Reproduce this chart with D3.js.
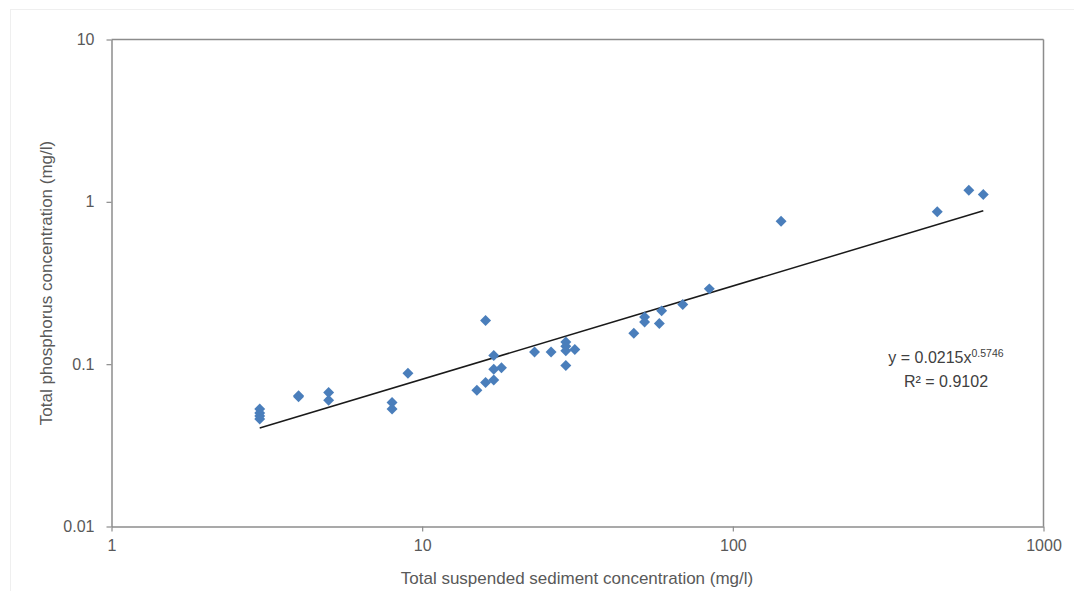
<!DOCTYPE html>
<html>
<head>
<meta charset="utf-8">
<script src="https://cdn.jsdelivr.net/npm/d3@7"></script>
<style>
  html, body { margin: 0; padding: 0; background: #fff; }
  svg { display: block; }
  text { font-family: "Liberation Sans", Arial, sans-serif; }
</style>
</head>
<body>
<svg id="chart" width="1074" height="591"></svg>
<script>
// ---- Data ----
const tss = [3, 3, 3, 3, 4, 4, 5, 5, 8, 8, 9, 15, 16, 16, 17, 17, 17, 18, 23, 26,
             29, 29, 29, 29, 31, 48, 52, 52, 58, 59, 69, 84, 143, 455, 575, 640];
const tp  = [0.053, 0.050, 0.048, 0.046, 0.064, 0.063, 0.067, 0.060, 0.058, 0.053,
             0.088, 0.069, 0.186, 0.077, 0.113, 0.093, 0.080, 0.095, 0.119, 0.119,
             0.137, 0.129, 0.121, 0.098, 0.123, 0.155, 0.195, 0.182, 0.178, 0.213,
             0.233, 0.291, 0.76, 0.87, 1.18, 1.11];
const xTicks = [1, 10, 100, 1000];
const yTicks = [0.01, 0.1, 1, 10];
const trendCoef = [0.0215, 0.5746];   // y = a * x^b
const eqLabel = "y = 0.0215x";
const eqExp = "0.5746";
const r2Label = "R² = 0.9102";
const xTitle = "Total suspended sediment concentration (mg/l)";
const yTitle = "Total phosphorus concentration (mg/l)";

// ---- Layout ----
const svg = d3.select("#chart");
const L = 111.5, R = 1043.5, T = 39.5, B = 526.5;

const x = d3.scaleLog().domain([1, 1000]).range([L, R]);
const y = d3.scaleLog().domain([0.01, 10]).range([B, T]);

// faint outer chart border
svg.append("rect").attr("x", 10.5).attr("y", 9.5).attr("width", 1070).attr("height", 600)
  .attr("fill", "none").attr("stroke", "#efefef").attr("stroke-width", 1);

const axisColor = "#8c8c8c";
const labelColor = "#595959";

// plot area border (top & right)
svg.append("line").attr("x1", L).attr("x2", R).attr("y1", T).attr("y2", T)
  .attr("stroke", axisColor).attr("stroke-width", 1.5);
svg.append("line").attr("x1", R).attr("x2", R).attr("y1", T).attr("y2", B)
  .attr("stroke", axisColor).attr("stroke-width", 1.5);

// axes
const xAxis = d3.axisBottom(x).tickValues(xTicks).tickFormat(d3.format("d")).tickSizeInner(5).tickSizeOuter(0).tickPadding(8);
const yAxis = d3.axisLeft(y).tickValues(yTicks).tickFormat(d => String(d)).tickSizeInner(5).tickSizeOuter(0).tickPadding(12);

const gx = svg.append("g").attr("transform", `translate(0,${B})`).call(xAxis);
const gy = svg.append("g").attr("transform", `translate(${L},0)`).call(yAxis);
[gx, gy].forEach(g => {
  g.select(".domain").attr("stroke", axisColor).attr("stroke-width", 1.5);
  g.selectAll(".tick line").attr("stroke", axisColor).attr("stroke-width", 1.2);
  g.selectAll(".tick text").attr("fill", labelColor).attr("font-size", 16)
    .attr("font-family", "Liberation Sans, Arial, sans-serif");
});

// trend line
const a = trendCoef[0], b = trendCoef[1];
const xmin = d3.min(tss), xmax = d3.max(tss);
const trendPts = [xmin, xmax].map(v => [x(v), y(a * Math.pow(v, b))]);
svg.append("path").attr("d", d3.line()(trendPts))
  .attr("stroke", "#1a1a1a").attr("stroke-width", 1.5).attr("fill", "none");

// points
const sym = d3.symbol().type(d3.symbolSquare).size(60);
svg.append("g").selectAll("path").data(tss.map((v, i) => [v, tp[i]])).join("path")
  .attr("d", sym)
  .attr("transform", d => `translate(${x(d[0])},${y(d[1])}) rotate(45)`)
  .attr("fill", "#4a7ebb");

// trendline label
const eq = svg.append("text").attr("x", 946).attr("y", 363).attr("text-anchor", "middle")
  .attr("font-size", 16).attr("fill", "#404040");
eq.append("tspan").text(eqLabel);
eq.append("tspan").attr("dy", -6).attr("font-size", 10.5).text(eqExp);
svg.append("text").attr("x", 946).attr("y", 387).attr("text-anchor", "middle")
  .attr("font-size", 16).attr("fill", "#404040").text(r2Label);

// axis titles
svg.append("text").attr("x", 577).attr("y", 584).attr("text-anchor", "middle")
  .attr("font-size", 17).attr("fill", labelColor).text(xTitle);
svg.append("text").attr("transform", `translate(52,${(T + B) / 2}) rotate(-90)`)
  .attr("text-anchor", "middle").attr("font-size", 17).attr("fill", labelColor).text(yTitle);
</script>
</body>
</html>
